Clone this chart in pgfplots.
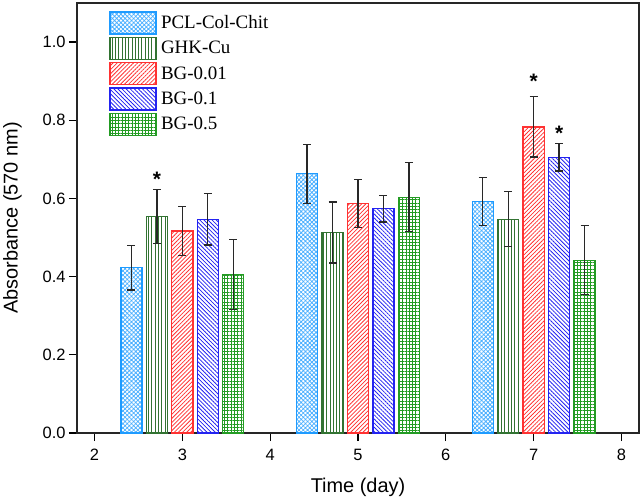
\documentclass[border=0pt]{standalone}
\usepackage{pgfplots}
\pgfplotsset{compat=1.18}
\usepackage{fontspec}
\setmainfont{Liberation Sans}
\newfontfamily\legfont{Liberation Serif}
\usetikzlibrary{patterns.meta}
\definecolor{cPCL}{RGB}{30,155,255}
\definecolor{cGHK}{RGB}{50,115,50}
\definecolor{cBGa}{RGB}{255,50,50}
\definecolor{cBGb}{RGB}{35,35,240}
\definecolor{cBGc}{RGB}{35,155,35}
\definecolor{cErr}{RGB}{40,40,40}
\pgfplotsset{
  my legend/.style={legend image code/.code={\draw[##1,/tikz/.cd,line width=1.3bp] (0bp,-11bp) rectangle (46bp,11bp);}},
  mybar/.style={ybar, bar width=0.24, bar shift=0pt, line width=1.3bp, fill=white, my legend,
    error bars/y dir=both, error bars/y explicit,
    error bars/error bar style={line width=1.2bp, cErr},
    error bars/error mark options={rotate=90, mark size=4bp, line width=1.2bp, cErr}},
}
\begin{document}
\begin{tikzpicture}
\path[use as bounding box] (-77bp,-67bp) rectangle (565bp,433bp);
\begin{axis}[
  scale only axis,
  width=562bp, height=430bp,
  xmin=1.8, xmax=8.2, ymin=0, ymax=1.1,
  xtick={2,3,4,5,6,7,8},
  ytick={0,0.2,0.4,0.6,0.8,1.0},
  yticklabel style={/pgf/number format/.cd, fixed, fixed zerofill, precision=1},
  /pgf/number format/assume math mode=true,
  tick label style={font=\fontsize{16.5}{19}\selectfont},
  xticklabel style={yshift=-5bp},
  label style={font=\fontsize{20}{24}\selectfont},
  xlabel={Time (day)},
  ylabel={Absorbance (570 nm)},
  xlabel shift={10bp},
  ylabel shift={14bp},
  xtick pos=left, ytick pos=left,
  tick align=outside,
  major tick length=8bp,
  tick style={line width=1.3bp, black},
  axis line style={line width=1.6bp, black!85},
  legend style={at={(axis description cs:0.057,0.981)}, anchor=north west, draw=none, fill=none,
    font=\legfont\fontsize{19}{22}\selectfont, row sep=2bp, column sep=3bp, inner sep=0bp,
    nodes={inner sep=1.5bp}},
  legend cell align=left,
  clip=false,
]
\addplot[mybar, draw=cPCL, pattern={Hatch[angle=45, distance=3bp, line width=0.8bp]}, pattern color=cPCL!80]
  coordinates {(2.42,0.423) +- (0,0.057) (4.42,0.663) +- (0,0.075) (6.42,0.592) +- (0,0.061)};
\addlegendentry{PCL-Col-Chit}
\addplot[mybar, draw=cGHK, pattern={Lines[angle=90, distance=3.3bp, line width=0.9bp]}, pattern color=cGHK]
  coordinates {(2.71,0.553) +- (0,0.069) (4.71,0.513) +- (0,0.078) (6.71,0.547) +- (0,0.070)};
\addlegendentry{GHK-Cu}
\addplot[mybar, draw=cBGa, pattern={Lines[angle=45, distance=2.9bp, line width=0.8bp]}, pattern color=cBGa]
  coordinates {(3.00,0.517) +- (0,0.063) (5.00,0.587) +- (0,0.062) (7.00,0.783) +- (0,0.077)};
\addlegendentry{BG-0.01}
\addplot[mybar, draw=cBGb, pattern={Lines[angle=-45, distance=2.9bp, line width=0.8bp]}, pattern color=cBGb]
  coordinates {(3.29,0.547) +- (0,0.066) (5.29,0.574) +- (0,0.034) (7.29,0.705) +- (0,0.035)};
\addlegendentry{BG-0.1}
\addplot[mybar, draw=cBGc, pattern={Hatch[angle=0, distance=3.3bp, line width=0.8bp]}, pattern color=cBGc]
  coordinates {(3.58,0.405) +- (0,0.089) (5.58,0.603) +- (0,0.088) (7.58,0.442) +- (0,0.088)};
\addlegendentry{BG-0.5}
\addplot[forget plot, only marks, mark=none,
  nodes near coords={\bfseries *},
  every node near coord/.append style={anchor=center, font=\fontsize{21}{21}\selectfont, black}]
  coordinates {(2.71,0.65) (7.00,0.90) (7.29,0.766)};
\end{axis}
\end{tikzpicture}
\end{document}
